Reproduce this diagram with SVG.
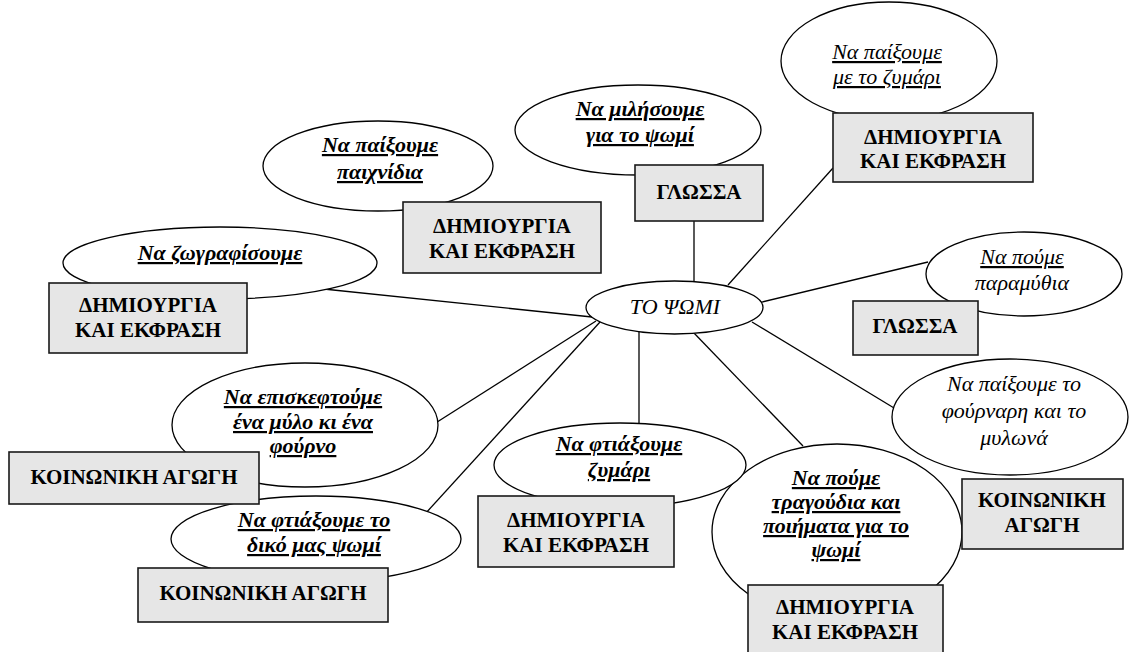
<svg xmlns="http://www.w3.org/2000/svg" width="1129" height="652" viewBox="0 0 1129 652">
<style>
.el{fill:#ffffff;stroke:#000000;stroke-width:1.3}
.bx{fill:#e6e6e6;stroke:#1a1a1a;stroke-width:1.6}
.cn line{stroke:#000000;stroke-width:1.3}
.bt{font-size:21px;font-weight:bold;fill:#000;text-anchor:middle}
.it{font-size:22px;font-style:italic;font-weight:bold;fill:#000;text-anchor:middle;text-decoration:underline}
.ir{font-size:22px;font-style:italic;fill:#000;text-anchor:middle}
.u{text-decoration:underline}
</style>
<rect x="0" y="0" width="1129" height="652" fill="#ffffff"/>
<g id="connectors" class="cn">
<line x1="694" y1="221" x2="694" y2="285"/>
<line x1="833" y1="168" x2="728" y2="285"/>
<line x1="758" y1="303" x2="928" y2="262"/>
<line x1="752" y1="322" x2="899" y2="411"/>
<line x1="693" y1="332" x2="803" y2="446"/>
<line x1="639" y1="330" x2="639" y2="427"/>
<line x1="600" y1="322" x2="425" y2="514"/>
<line x1="596" y1="321" x2="434" y2="424"/>
<line x1="592" y1="317" x2="314" y2="288"/>
</g>
<g id="n-tragoudia">
<ellipse class="el" cx="837" cy="532" rx="125" ry="88"/>
<text class="it" font-family="Liberation Serif" x="836" y="485">Να πούμε</text>
<text class="it" font-family="Liberation Serif" x="836" y="509">τραγούδια και</text>
<text class="it" font-family="Liberation Serif" x="836" y="533">ποιήματα για το</text>
<text class="it" font-family="Liberation Serif" x="836" y="557">ψωμί</text>
</g>
<g id="n-center">
<ellipse class="el" cx="674.5" cy="307.5" rx="88.5" ry="26.5"/>
<text class="ir" font-family="Liberation Serif" x="675" y="314">ΤΟ ΨΩΜΙ</text>
</g>
<g id="n-zymari-play">
<ellipse class="el" cx="889" cy="61" rx="108" ry="59"/>
<text class="ir u" font-family="Liberation Serif" x="887" y="59">Να παίξουμε</text>
<text class="ir u" font-family="Liberation Serif" x="887" y="84">με το ζυμάρι</text>
</g>
<g id="n-milisoume">
<ellipse class="el" cx="638" cy="130" rx="123" ry="45"/>
<text class="it" font-family="Liberation Serif" x="640" y="116">Να μιλήσουμε</text>
<text class="it" font-family="Liberation Serif" x="640" y="142">για το ψωμί</text>
</g>
<g id="n-paixnidia">
<ellipse class="el" cx="378" cy="166" rx="115" ry="45"/>
<text class="it" font-family="Liberation Serif" x="380" y="152">Να παίξουμε</text>
<text class="it" font-family="Liberation Serif" x="380" y="179">παιχνίδια</text>
</g>
<g id="n-zografisoume">
<ellipse class="el" cx="220" cy="263" rx="157" ry="36"/>
<text class="it" font-family="Liberation Serif" x="220" y="260">Να ζωγραφίσουμε</text>
</g>
<g id="n-paramythia">
<ellipse class="el" cx="1024" cy="274" rx="98" ry="42"/>
<text class="ir u" font-family="Liberation Serif" x="1022" y="264">Να πούμε</text>
<text class="ir" font-family="Liberation Serif" x="1022" y="290">παραμύθια</text>
</g>
<g id="n-fournari">
<ellipse class="el" cx="1010" cy="417" rx="118" ry="58"/>
<text class="ir" font-family="Liberation Serif" x="1014" y="391">Να παίξουμε το</text>
<text class="ir" font-family="Liberation Serif" x="1014" y="418">φούρναρη και το</text>
<text class="ir" font-family="Liberation Serif" x="1014" y="445">μυλωνά</text>
</g>
<g id="n-zymari-make">
<ellipse class="el" cx="620" cy="465" rx="126" ry="42"/>
<text class="it" font-family="Liberation Serif" x="619" y="451">Να φτιάξουμε</text>
<text class="it" font-family="Liberation Serif" x="619" y="477">ζυμάρι</text>
</g>
<g id="n-episkeftoume">
<ellipse class="el" cx="305" cy="425" rx="133" ry="62"/>
<text class="it" font-family="Liberation Serif" x="303" y="404">Να επισκεφτούμε</text>
<text class="it" font-family="Liberation Serif" x="303" y="429">ένα μύλο κι ένα</text>
<text class="it" font-family="Liberation Serif" x="303" y="453">φούρνο</text>
</g>
<g id="n-diko">
<ellipse class="el" cx="316" cy="539" rx="145" ry="43"/>
<text class="it" font-family="Liberation Serif" x="314" y="527">Να φτιάξουμε το</text>
<text class="it" font-family="Liberation Serif" x="314" y="552">δικό μας ψωμί</text>
</g>
<g id="b-dim-topright">
<rect class="bx" x="833" y="113" width="200" height="69"/>
<text class="bt" font-family="Liberation Serif" x="933" y="144">ΔΗΜΙΟΥΡΓΙΑ</text>
<text class="bt" font-family="Liberation Serif" x="933" y="168">ΚΑΙ ΕΚΦΡΑΣΗ</text>
</g>
<g id="b-glossa-top">
<rect class="bx" x="635" y="165" width="128" height="56"/>
<text class="bt" font-family="Liberation Serif" x="699" y="199">ΓΛΩΣΣΑ</text>
</g>
<g id="b-dim-mid">
<rect class="bx" x="403" y="202" width="198" height="71"/>
<text class="bt" font-family="Liberation Serif" x="502" y="233">ΔΗΜΙΟΥΡΓΙΑ</text>
<text class="bt" font-family="Liberation Serif" x="502" y="258">ΚΑΙ ΕΚΦΡΑΣΗ</text>
</g>
<g id="b-dim-left">
<rect class="bx" x="49" y="283" width="198" height="70"/>
<text class="bt" font-family="Liberation Serif" x="148" y="312">ΔΗΜΙΟΥΡΓΙΑ</text>
<text class="bt" font-family="Liberation Serif" x="148" y="337">ΚΑΙ ΕΚΦΡΑΣΗ</text>
</g>
<g id="b-glossa-right">
<rect class="bx" x="853" y="301" width="125" height="54"/>
<text class="bt" font-family="Liberation Serif" x="915" y="333">ΓΛΩΣΣΑ</text>
</g>
<g id="b-koin-right">
<rect class="bx" x="962" y="479" width="161" height="70"/>
<text class="bt" font-family="Liberation Serif" x="1042" y="507">ΚΟΙΝΩΝΙΚΗ</text>
<text class="bt" font-family="Liberation Serif" x="1042" y="532">ΑΓΩΓΗ</text>
</g>
<g id="b-dim-bottomright">
<rect class="bx" x="748" y="585" width="195" height="70"/>
<text class="bt" font-family="Liberation Serif" x="845" y="614">ΔΗΜΙΟΥΡΓΙΑ</text>
<text class="bt" font-family="Liberation Serif" x="845" y="639">ΚΑΙ ΕΚΦΡΑΣΗ</text>
</g>
<g id="b-dim-center">
<rect class="bx" x="478" y="496" width="196" height="71"/>
<text class="bt" font-family="Liberation Serif" x="576" y="527">ΔΗΜΙΟΥΡΓΙΑ</text>
<text class="bt" font-family="Liberation Serif" x="576" y="552">ΚΑΙ ΕΚΦΡΑΣΗ</text>
</g>
<g id="b-koin-left">
<rect class="bx" x="9" y="452" width="250" height="52"/>
<text class="bt" font-family="Liberation Serif" x="134" y="484">ΚΟΙΝΩΝΙΚΗ ΑΓΩΓΗ</text>
</g>
<g id="b-koin-bottom">
<rect class="bx" x="138" y="568" width="250" height="54"/>
<text class="bt" font-family="Liberation Serif" x="263" y="600">ΚΟΙΝΩΝΙΚΗ ΑΓΩΓΗ</text>
</g>
</svg>
